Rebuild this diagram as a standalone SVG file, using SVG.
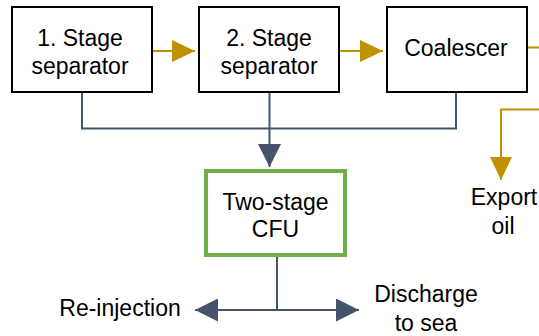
<svg xmlns="http://www.w3.org/2000/svg" width="539" height="336" viewBox="0 0 539 336">
  <style>
    .box { fill: #ffffff; stroke: #000000; stroke-width: 2; }
    .cfu { fill: #ffffff; stroke: #70AD47; stroke-width: 4; }
    .lbl { font-family: "Liberation Sans", Arial, sans-serif; font-size: 23px; fill: #000000; text-anchor: middle; }
    .oil { fill: none; stroke: #BF9000; stroke-width: 2; }
    .water { fill: none; stroke: #44546A; stroke-width: 2; }
  </style>
  <defs>
    <marker id="headOil" markerUnits="userSpaceOnUse" markerWidth="23" markerHeight="22" refX="23" refY="11" orient="auto">
      <path d="M0,0 L23,11 L0,22 z" fill="#BF9000"/>
    </marker>
    <marker id="headWater" markerUnits="userSpaceOnUse" markerWidth="23" markerHeight="23" refX="23" refY="11.5" orient="auto">
      <path d="M0,0 L23,11.5 L0,23 z" fill="#44546A"/>
    </marker>
  </defs>
  <rect width="539" height="336" fill="#ffffff"/>

  <g id="connectors">
    <!-- oil path -->
    <line class="oil" x1="152" y1="51" x2="195" y2="51" marker-end="url(#headOil)"/>
    <line class="oil" x1="339" y1="51" x2="383" y2="51" marker-end="url(#headOil)"/>
    <line class="oil" x1="527" y1="47.5" x2="540" y2="47.5"/>
    <polyline class="oil" points="540,109.5 501,109.5 501,180" marker-end="url(#headOil)"/>
    <!-- water collection header -->
    <polyline class="water" points="82,93 82,128.5 456,128.5 456,93"/>
    <line class="water" x1="269.5" y1="93" x2="269.5" y2="167" marker-end="url(#headWater)"/>
    <!-- CFU outlet -->
    <line class="water" x1="277" y1="257" x2="277" y2="310"/>
    <line class="water" x1="277" y1="310" x2="195" y2="310" marker-end="url(#headWater)"/>
    <line class="water" x1="277" y1="310" x2="359" y2="310" marker-end="url(#headWater)"/>
  </g>

  <g id="stage1">
    <rect class="box" x="12" y="7" width="140" height="85"/>
    <text class="lbl" x="80" y="46">1. Stage</text>
    <text class="lbl" x="80" y="73.5">separator</text>
  </g>
  <g id="stage2">
    <rect class="box" x="199" y="7" width="140" height="85"/>
    <text class="lbl" x="269" y="46">2. Stage</text>
    <text class="lbl" x="269" y="73.5">separator</text>
  </g>
  <g id="coalescer">
    <rect class="box" x="387" y="7" width="140" height="85"/>
    <text class="lbl" x="456" y="56">Coalescer</text>
  </g>
  <g id="cfu">
    <rect class="cfu" x="206" y="171" width="139" height="84"/>
    <text class="lbl" x="275.5" y="210">Two-stage</text>
    <text class="lbl" x="275.5" y="237">CFU</text>
  </g>
  <g id="export-oil">
    <text class="lbl" x="504" y="205">Export</text>
    <text class="lbl" x="503" y="234">oil</text>
  </g>
  <g id="reinjection">
    <text class="lbl" x="120" y="316">Re-injection</text>
  </g>
  <g id="discharge">
    <text class="lbl" x="426" y="302">Discharge</text>
    <text class="lbl" x="426" y="331">to sea</text>
  </g>
</svg>
